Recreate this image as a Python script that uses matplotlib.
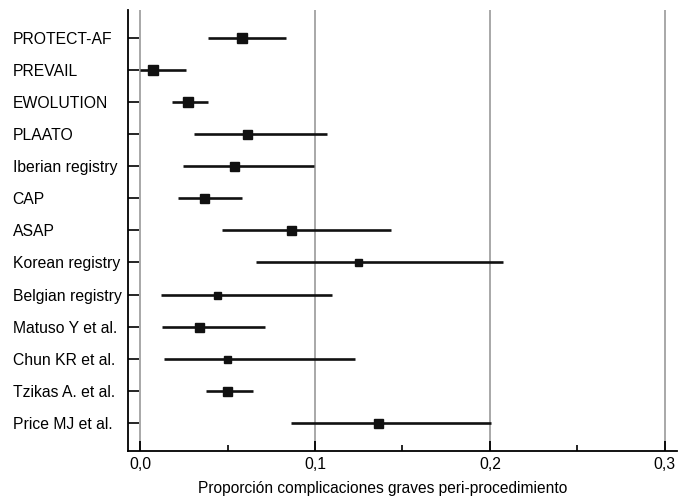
import matplotlib
matplotlib.use("Agg")
import matplotlib.pyplot as plt

# Forest plot: proportion of serious peri-procedural complications
studies = [
    "PROTECT-AF", "PREVAIL", "EWOLUTION", "PLAATO", "Iberian registry", "CAP",
    "ASAP", "Korean registry", "Belgian registry", "Matuso Y et al.",
    "Chun KR et al.", "Tzikas A. et al.", "Price MJ et al.",
]
estimate = [0.058, 0.0072, 0.0272, 0.061, 0.0539, 0.0368,
            0.0863, 0.1244, 0.0442, 0.0337, 0.0499, 0.0495, 0.1358]
ci_low = [0.039, 0.0, 0.0185, 0.031, 0.0248, 0.0215,
          0.047, 0.0663, 0.012, 0.0128, 0.0137, 0.0375, 0.0863]
ci_high = [0.0832, 0.026, 0.039, 0.1067, 0.0996, 0.0581,
           0.1434, 0.2076, 0.1095, 0.0714, 0.123, 0.0644, 0.2006]
xticks = [0.0, 0.1, 0.2, 0.3]
xtick_labels = ["0,0", "0,1", "0,2", "0,3"]
xlabel = "Proporción complicaciones graves peri-procedimiento"

# marker size per study (box size in px)
box_px = [10, 10, 10, 9, 9, 9, 9, 7, 7, 9, 7, 9, 9]

plt.rcParams["font.family"] = ["Liberation Sans", "DejaVu Sans"]

fig = plt.figure(figsize=(6.86, 4.96), dpi=100)
ax = fig.add_axes([0.1866, 0.0907, 0.8004, 0.8891])

n = len(studies)
ypos = [n - 1 - i for i in range(n)]

for x in xticks:
    ax.axvline(x, color="#a8a8a8", linewidth=1.4, zorder=1)

for i in range(n):
    ax.plot([ci_low[i], ci_high[i]], [ypos[i], ypos[i]], color="#111111",
            linewidth=1.9, solid_capstyle="butt", zorder=2)
    ax.plot(estimate[i], ypos[i], marker="s", color="#111111",
            markersize=box_px[i] * 0.72, zorder=3)

ax.set_xlim(-0.0069, 0.307)
ax.set_ylim(-0.87, n - 1 + 0.86)

ax.set_yticks(ypos)
ax.set_yticklabels(studies, fontsize=11.3)
for lab in ax.get_yticklabels():
    lab.set_horizontalalignment("left")
ax.tick_params(axis="y", direction="in", length=8, width=1.2, pad=83)

ax.set_xticks(xticks)
ax.set_xticklabels(xtick_labels, fontsize=11.3)
ax.set_xticks([0.05, 0.15, 0.25], minor=True)
ax.tick_params(axis="x", which="major", direction="in", length=7, width=1.3, pad=4)
ax.tick_params(axis="x", which="minor", direction="in", length=4, width=1.2)

ax.set_xlabel(xlabel, fontsize=11.2, labelpad=3)
ax.xaxis.set_label_coords(0.463, -0.068)

for side in ["top", "right"]:
    ax.spines[side].set_visible(False)
for side in ["left", "bottom"]:
    ax.spines[side].set_linewidth(1.3)

fig.savefig("out.png", dpi=100)
